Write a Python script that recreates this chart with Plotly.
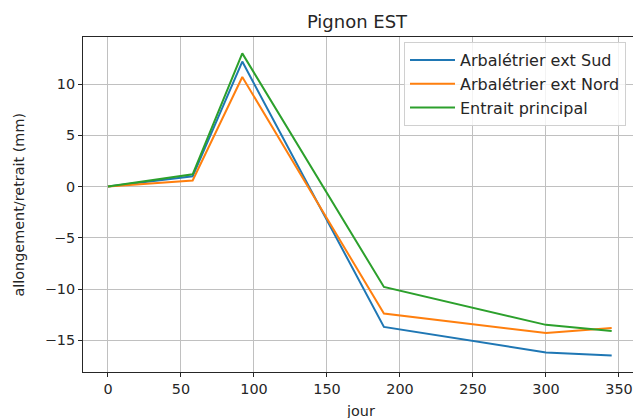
import plotly.graph_objects as go

jours = [0, 58, 92, 189, 300, 345]
arbaletrier_sud = [0.0, 1.0, 12.2, -13.7, -16.2, -16.5]
arbaletrier_nord = [0.0, 0.6, 10.7, -12.4, -14.3, -13.8]
entrait_principal = [0.0, 1.2, 13.0, -9.8, -13.5, -14.1]

series = [
    ("Arbalétrier ext Sud", arbaletrier_sud, "#1f77b4"),
    ("Arbalétrier ext Nord", arbaletrier_nord, "#ff7f0e"),
    ("Entrait principal", entrait_principal, "#2ca02c"),
]

font_family = "DejaVu Sans, Arial, sans-serif"
W, H = 633, 418
L, R, T, B = 83, 0, 37, 46
pw, ph = W - L - R, H - T - B


def px_x(p):
    return (p - L) / pw


def px_y(p):
    return (H - B - p) / ph


fig = go.Figure()
for name, vals, color in series:
    fig.add_trace(go.Scatter(x=jours, y=vals, mode="lines", name=name,
                             line=dict(color=color, width=2)))

fig.update_layout(
    width=W, height=H,
    margin=dict(l=L, r=R, t=T, b=B, autoexpand=False),
    paper_bgcolor="white", plot_bgcolor="white",
    font=dict(family=font_family, size=14.4, color="#262626"),
    title=dict(text="Pignon EST", x=357 / W, xanchor="center",
               y=1 - 22 / H, yanchor="middle",
               font=dict(size=18, color="#262626")),
    legend=dict(x=px_x(404), y=px_y(42),
                xanchor="left", yanchor="top",
                bgcolor="rgba(255,255,255,0.8)", bordercolor="#d0d0d0",
                borderwidth=1, font=dict(size=16, color="#262626"),
                itemwidth=45),
    showlegend=True,
    annotations=[
        dict(text="jour", x=px_x(360), y=px_y(411), xref="paper", yref="paper",
             showarrow=False, font=dict(size=14.4, color="#262626"),
             xanchor="center", yanchor="middle"),
        dict(text="allongement/retrait (mm)", x=px_x(18), y=px_y(204.5),
             xref="paper", yref="paper", textangle=-90,
             showarrow=False, font=dict(size=14.4, color="#262626"),
             xanchor="center", yanchor="middle"),
    ],
)

fig.update_xaxes(
    range=[-17.1, 359.6], tickvals=[0, 50, 100, 150, 200, 250, 300, 350],
    showgrid=True, gridcolor="#c0c0c0", gridwidth=1,
    showline=True, linecolor="#262626", linewidth=1, mirror=True,
    ticks="outside", ticklen=4, tickcolor="#262626",
    zeroline=False, automargin=False,
)
fig.update_yaxes(
    range=[-18.1, 14.6], tickvals=[-15, -10, -5, 0, 5, 10],
    ticktext=["−15", "−10", "−5", "0", "5", "10"],
    showgrid=True, gridcolor="#c0c0c0", gridwidth=1,
    showline=True, linecolor="#262626", linewidth=1,
    ticks="outside", ticklen=4, tickcolor="#262626",
    zeroline=False, automargin=False,
)

fig.write_html("out.html", config={"responsive": False, "displayModeBar": False},
               post_script="document.body.style.margin='0';document.body.style.overflow='hidden';")
